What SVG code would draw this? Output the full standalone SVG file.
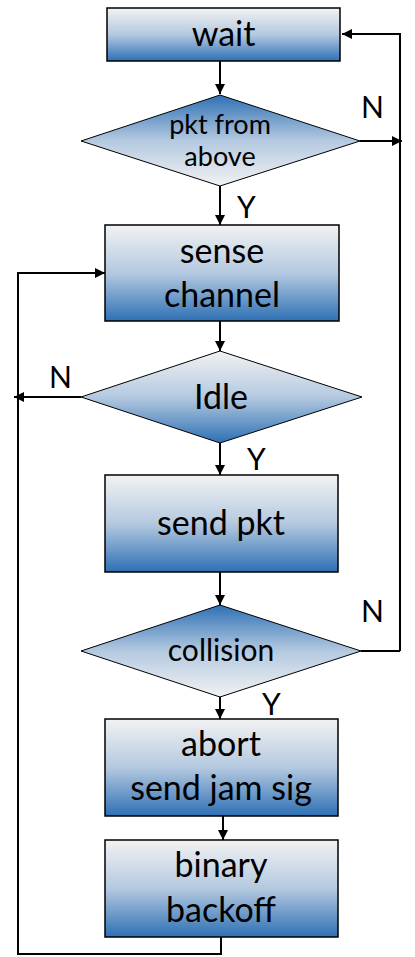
<svg xmlns="http://www.w3.org/2000/svg" width="415" height="957" viewBox="0 0 415 957">
<defs>
<linearGradient id="gDown" x1="0" y1="0" x2="0" y2="1">
<stop offset="0" stop-color="#f2f2f2"/>
<stop offset="0.5" stop-color="#b4c9e0"/>
<stop offset="1" stop-color="#2e70b4"/>
</linearGradient>
<linearGradient id="gUp" x1="0" y1="1" x2="0" y2="0">
<stop offset="0" stop-color="#f2f2f2"/>
<stop offset="0.5" stop-color="#b4c9e0"/>
<stop offset="1" stop-color="#2e70b4"/>
</linearGradient>
<marker id="arr" viewBox="0 0 10 10" refX="10" refY="5" markerWidth="5" markerHeight="5" orient="auto" markerUnits="strokeWidth">
<path d="M0,0 L10,5 L0,10 z" fill="#000"/>
</marker>
</defs>
<style>
.box{fill:url(#gDown);stroke:#000;stroke-width:1.5}
.dDown{fill:url(#gDown);stroke:#000;stroke-width:1}
.dUp{fill:url(#gUp);stroke:#000;stroke-width:1}
.t{font-family:Lato,"Liberation Sans",sans-serif;font-size:34px;fill:#000;text-anchor:middle}
.ts{font-family:Lato,"Liberation Sans",sans-serif;font-size:27px;fill:#000;text-anchor:middle}
.lbl{font-family:Lato,"Liberation Sans",sans-serif;font-size:30px;fill:#000}
.c{fill:none;stroke:#000;stroke-width:2}
</style>
<g id="connectors">
<path class="c" d="M220,58 V94" marker-end="url(#arr)"/>
<path class="c" d="M360,141 H402" marker-end="url(#arr)"/>
<path class="c" d="M400,651 V34 H342" marker-end="url(#arr)"/>
<path class="c" d="M220,186 V225" marker-end="url(#arr)"/>
<path class="c" d="M220,321 V351" marker-end="url(#arr)"/>
<path class="c" d="M81,397 H14" marker-end="url(#arr)"/>
<path class="c" d="M220,443 V475" marker-end="url(#arr)"/>
<path class="c" d="M220,572 V605" marker-end="url(#arr)"/>
<path class="c" d="M361,651 H400"/>
<path class="c" d="M220,688 V719" marker-end="url(#arr)"/>
<path class="c" d="M223,808 V840" marker-end="url(#arr)"/>
<path class="c" d="M221,937 V954 H18 V273 H105" marker-end="url(#arr)"/>
<text class="lbl" x="361" y="118">N</text>
<text class="lbl" x="237" y="218">Y</text>
<text class="lbl" x="49" y="388">N</text>
<text class="lbl" x="247" y="470">Y</text>
<text class="lbl" x="361" y="622">N</text>
<text class="lbl" x="262" y="715">Y</text>
</g>
<g id="wait">
<rect class="box" x="107" y="8" width="233" height="53"/>
<text class="t" x="223.5" y="46">wait</text>
</g>
<g id="pkt-from-above">
<polygon class="dUp" points="220,95 360,141 220,186 81,141"/>
<text class="ts" x="220" y="134">pkt from</text>
<text class="ts" x="220" y="166">above</text>
</g>
<g id="sense-channel">
<rect class="box" x="105" y="225" width="234" height="96"/>
<text class="t" x="222" y="263">sense</text>
<text class="t" x="222" y="307">channel</text>
</g>
<g id="idle">
<polygon class="dDown" points="220,351 362,397 220,443 81,397"/>
<text class="t" x="221" y="409">Idle</text>
</g>
<g id="send-pkt">
<rect class="box" x="105" y="475" width="233" height="97"/>
<text class="t" x="221" y="535">send pkt</text>
</g>
<g id="collision">
<polygon class="dUp" points="220,605 361,651 220,697 81,651"/>
<text class="ts" x="221" y="661" style="font-size:30px">collision</text>
</g>
<g id="abort">
<rect class="box" x="105" y="719" width="233" height="97"/>
<text class="t" x="221" y="756">abort</text>
<text class="t" x="221" y="800">send jam sig</text>
</g>
<g id="binary-backoff">
<rect class="box" x="105" y="840" width="233" height="97"/>
<text class="t" x="221" y="877">binary</text>
<text class="t" x="221" y="922">backoff</text>
</g>
</svg>
